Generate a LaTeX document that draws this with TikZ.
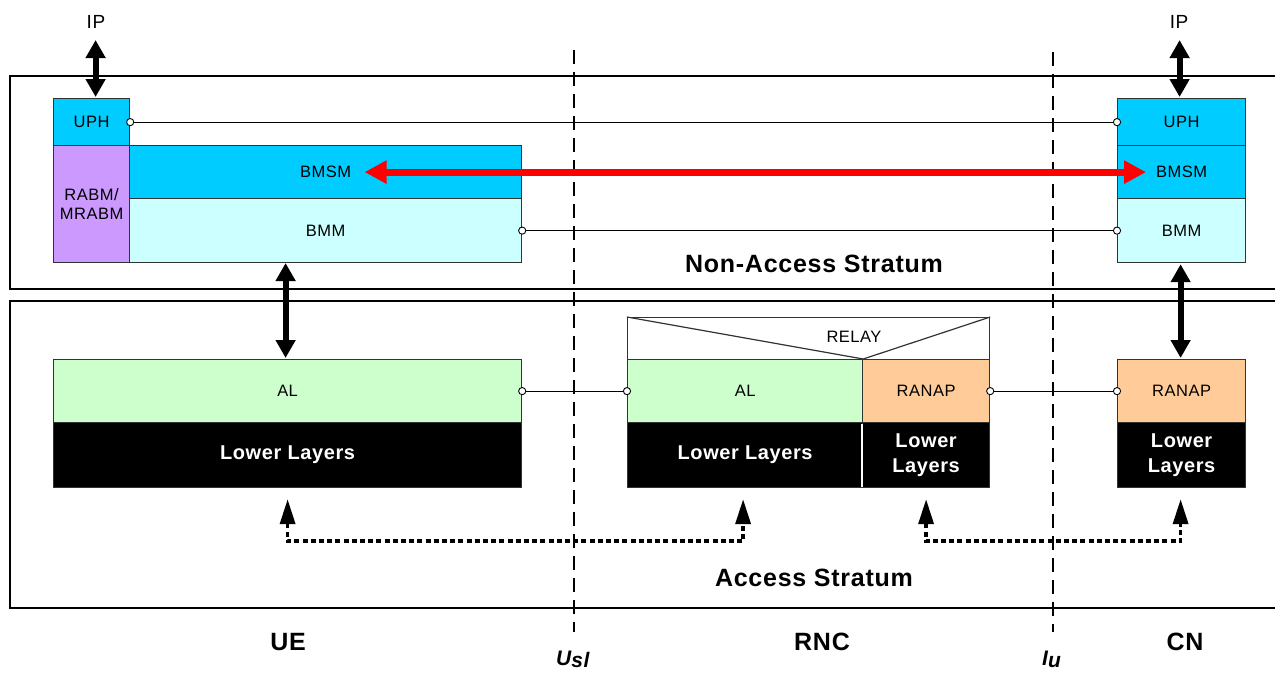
\documentclass[tikz,border=0pt]{standalone}
\usepackage{fontspec}
\setmainfont{Liberation Sans}[LetterSpace=3]
\usetikzlibrary{arrows.meta,calc}
\definecolor{cy}{HTML}{00CCFF}
\definecolor{lcy}{HTML}{CCFFFF}
\definecolor{pur}{HTML}{CC99FF}
\definecolor{grn}{HTML}{CCFFCC}
\definecolor{ora}{HTML}{FFCC99}
\definecolor{bord}{HTML}{333333}
\begin{document}
\begin{tikzpicture}[x=1pt,y=-1pt,
  lay/.style={draw=bord, line width=1.2pt, inner sep=0pt, anchor=north west,
    font=\fontsize{16.5}{19}\selectfont, align=center},
  blk/.style={lay, fill=black, text=white, font=\bfseries\fontsize{20}{25}\selectfont},
  frame/.style={line width=2pt, draw=black},
  divider/.style={line width=2pt, dash pattern=on 14pt off 8pt},
  thinline/.style={line width=1pt},
  pin/.style={line width=0.9pt, draw=black, fill=white},
  bigarr/.style={line width=6pt, {Triangle[length=18pt,width=19pt]}-{Triangle[length=18pt,width=19pt]}},
  redarr/.style={line width=7pt, draw={rgb,255:red,255;green,0;blue,0},
    {Triangle[length=22pt,width=22pt]}-{Triangle[length=22pt,width=22pt]}},
  dotarr/.style={line width=3.5pt, dash pattern=on 5pt off 3.2pt,
    {Triangle[length=25pt,width=15pt]}-{Triangle[length=25pt,width=15pt]}},
  bigl/.style={font=\bfseries\fontsize{25}{30}\selectfont, inner sep=0pt},
  lbl/.style={font=\fontsize{19}{22}\selectfont, inner sep=0pt}
]
\useasboundingbox (0,0) rectangle (1275,673);

% strata frames
\draw[frame] (1290,76) -- (10,76) -- (10,289) -- (1290,289);
\draw[frame] (1290,301) -- (10,301) -- (10,608) -- (1290,608);

% reference point dividers
\draw[divider] (574,50) -- (574,632);
\draw[divider] (1053,52) -- (1053,632);

% UE non-access stratum
\node[lay, fill=cy, minimum width=76pt, minimum height=47pt] (uph) at (53,98) {UPH};
\node[lay, fill=pur, minimum width=76pt, minimum height=117pt] (rabm) at (53,145) {RABM/\\MRABM};
\node[lay, fill=cy, minimum width=392pt, minimum height=53pt] (bmsm) at (129,145) {BMSM};
\node[lay, fill=lcy, minimum width=392pt, minimum height=64pt] (bmm) at (129,198) {BMM};

% CN non-access stratum
\node[lay, fill=cy, minimum width=128pt, minimum height=47pt] (cnuph) at (1117,98) {UPH};
\node[lay, fill=cy, minimum width=128pt, minimum height=53pt] (cnbmsm) at (1117,145) {BMSM};
\node[lay, fill=lcy, minimum width=128pt, minimum height=64pt] (cnbmm) at (1117,198) {BMM};

% UE access stratum
\node[lay, fill=grn, minimum width=468pt, minimum height=63pt] (ueal) at (53,359) {AL};
\node[blk, minimum width=468pt, minimum height=65pt] (uell) at (53,422) {Lower Layers};

% RNC
\node[lay, fill=white, minimum width=362pt, minimum height=42pt] (relay) at (627,317) {};
\node[lay, fill=grn, minimum width=235pt, minimum height=63pt] (rnal) at (627,359) {AL};
\node[lay, fill=ora, minimum width=127pt, minimum height=63pt] (rnranap) at (862,359) {RANAP};
\node[blk, minimum width=235pt, minimum height=65pt] (rnll) at (627,422) {Lower Layers};
\node[blk, minimum width=127pt, minimum height=65pt] (rnll2) at (862,422) {Lower\\Layers};
\draw[white, line width=1.2pt] (rnll2.north west) ++(0,1.5) -- ($(rnll2.south west)+(0,-1)$);
\draw[line width=1.2pt, draw=bord] (relay.north west) -- (rnal.north east) -- (relay.north east);
\node[lbl, font=\fontsize{16.5}{19}\selectfont] (relaytxt) at (854,337) {RELAY};

% CN access stratum
\node[lay, fill=ora, minimum width=128pt, minimum height=63pt] (cnranap) at (1117,359) {RANAP};
\node[blk, minimum width=128pt, minimum height=65pt] (cnll) at (1117,422) {Lower\\Layers};

% peer connectors
\draw[thinline] (uph.east) -- (cnuph.west);
\draw[thinline] (bmm.east) -- (cnbmm.west);
\draw[thinline] (ueal.east) -- (rnal.west);
\draw[thinline] (rnranap.east) -- (cnranap.west);
\foreach \p in {uph.east, cnuph.west, bmm.east, cnbmm.west, ueal.east, rnal.west, rnranap.east, cnranap.west}
  \draw[pin] (\p) circle[radius=3.6pt];

% IP
\node[lbl] (ip1) at (96,22) {IP};
\node[lbl] (ip2) at (1179,22) {IP};
\draw[bigarr] ($(uph.north)+(4,-58)$) -- ($(uph.north)+(4,-1)$);
\draw[bigarr] ($(cnuph.north)+(-2,-58)$) -- ($(cnuph.north)+(-2,-1)$);

% vertical NAS-AS arrows
\draw[bigarr] ($(ueal.north)+(-2,-96)$) -- ($(ueal.north)+(-2,-1)$);
\draw[bigarr] ($(cnbmm.south)+(-1,1)$) -- ($(cnranap.north)+(-1,-1)$);

% BMSM peer arrow
\draw[redarr] ($(bmsm.center)+(39,0)$) -- ($(cnbmsm.west)+(29,0)$);

% lower layer peer arrows
\draw[dotarr] ($(uell.south)+(0,11)$) -- ($(uell.south)+(0,53)$) -| ($(rnll.south)+(-2,11)$);
\draw[dotarr] ($(rnll2.south)+(0,11)$) -- ($(rnll2.south)+(0,53)$) -| ($(cnll.south)+(-1,11)$);

% labels
\node[bigl] (nas) at (814,264) {Non-Access Stratum};
\node[bigl] (as) at (814,578) {Access Stratum};
\node[bigl] (ue) at (288,642) {UE};
\node[bigl] (rnc) at (822,642) {RNC};
\node[bigl] (cn) at (1185,642) {CN};
\node[bigl, anchor=base west, font=\bfseries\itshape\fontsize{21}{24}\selectfont] (usl) at (556,665) {U\raisebox{-0.25ex}{sl}};
\node[bigl, anchor=base west, font=\bfseries\itshape\fontsize{21}{24}\selectfont] (iu) at (1042,665) {I\raisebox{-0.25ex}{u}};
\end{tikzpicture}
\end{document}
